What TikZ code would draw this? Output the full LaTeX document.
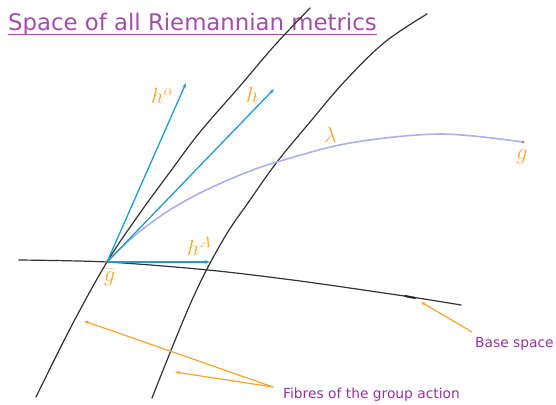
\documentclass[tikz,border=0pt]{standalone}
\usepackage{fix-cm}
\usepackage{fontspec}
\newfontfamily\labfont{DejaVu Sans}
\usetikzlibrary{arrows.meta}
\definecolor{ttl}{RGB}{165,75,170}
\definecolor{lab}{RGB}{150,50,160}
\definecolor{org}{RGB}{245,165,50}
\definecolor{blu}{RGB}{35,155,205}
\definecolor{lav}{RGB}{175,175,235}
\definecolor{dotred}{RGB}{220,60,50}
\begin{document}
\begin{tikzpicture}[x=1pt,y=-1pt,
  fibre/.style={draw=black!80, line width=1.2pt, line cap=round},
  vec/.style={draw=blu, line width=1.3pt, -{Stealth[length=5pt,width=3.5pt]}},
  ann/.style={draw=org, line width=1.2pt, -{Stealth[length=5pt,width=3.5pt]}},
  mlab/.style={text=org, font=\fontsize{22}{26}\selectfont, inner sep=0pt, anchor=base west},
  txt/.style={text=lab, font=\labfont\fontsize{13.8}{16}\selectfont, inner sep=0pt, anchor=base west},
  enddot/.style={fill=dotred}]
\useasboundingbox (0,0) rectangle (556,404);

% named points
\coordinate (gbar) at (107,262);
\coordinate (g) at (523,142);
\coordinate (ha) at (186,83);
\coordinate (hh) at (274,89);
\coordinate (hA) at (210,262);

% title
\node[anchor=base west, inner sep=0pt, text=ttl, font=\labfont\fontsize{22.8}{27}\selectfont] (title) at (8,31) {Space of all Riemannian metrics};
\draw[ttl, line width=1.2pt] ([yshift=-3.5pt]title.base west) -- ([yshift=-3.5pt]title.base east);

% fibres
\draw[fibre] plot[smooth, tension=0.6] coordinates {(36,397) (72,325) (107,262) (140,213) (170,172) (200,132) (240,86) (275,45) (310,8)};
\draw[fibre] plot[smooth, tension=0.6] coordinates {(152,398) (192,300) (223,240) (250,200) (277,162) (310,122) (345,81) (385,42) (427,14)};
% base space
\draw[fibre] plot[smooth, tension=0.5] coordinates {(19,260) (107,262) (208,270) (300,281) (411,297) (461,305)};
\draw[black!85, line width=2pt, line cap=round] (405,296) -- (415,298);

% lambda curve
\draw[lav, line width=1.6pt, line cap=round] plot[smooth, tension=0.55] coordinates {(gbar) (133,237) (165,213) (200,193) (240,175) (277,162) (350,143) (440,134) (523,142)};

% tangent vectors
\draw[vec] (gbar) -- (ha);
\draw[vec] (gbar) -- (hh);
\draw[vec] (gbar) -- (hA);

% dots
\fill[enddot] (gbar) circle (1.4pt);
\fill[enddot] (g) circle (1.2pt);
\foreach \p in {(310,8),(427,14),(19,260),(461,305),(36,397),(152,398)} \fill[enddot] \p circle (0.7pt);

% math labels
\node[mlab] (lha) at (151,103) {$h^\alpha$};
\node[mlab] (lh) at (246,102) {$h$};
\node[mlab] (lhA) at (187,255) {$h^A$};
\node[mlab] (llam) at (324,142) {$\lambda$};
\node[mlab] (lgbar) at (104,281) {$\bar g$};
\node[mlab, anchor=base] (lg) at (522,159) {$g$};

% annotations
\node[txt] (base) at (475,347) {Base space};
\node[txt] (fib) at (283,398) {Fibres of the group action};
\coordinate (bs) at (472,332);
\coordinate (bt) at (421,302);
\coordinate (fs) at (273,387);
\coordinate (ft1) at (84,321);
\coordinate (ft2) at (175,372);
\draw[ann] (bs) -- (bt);
\draw[ann] (fs) -- (ft1);
\draw[ann] (fs) -- (ft2);
\end{tikzpicture}
\end{document}
